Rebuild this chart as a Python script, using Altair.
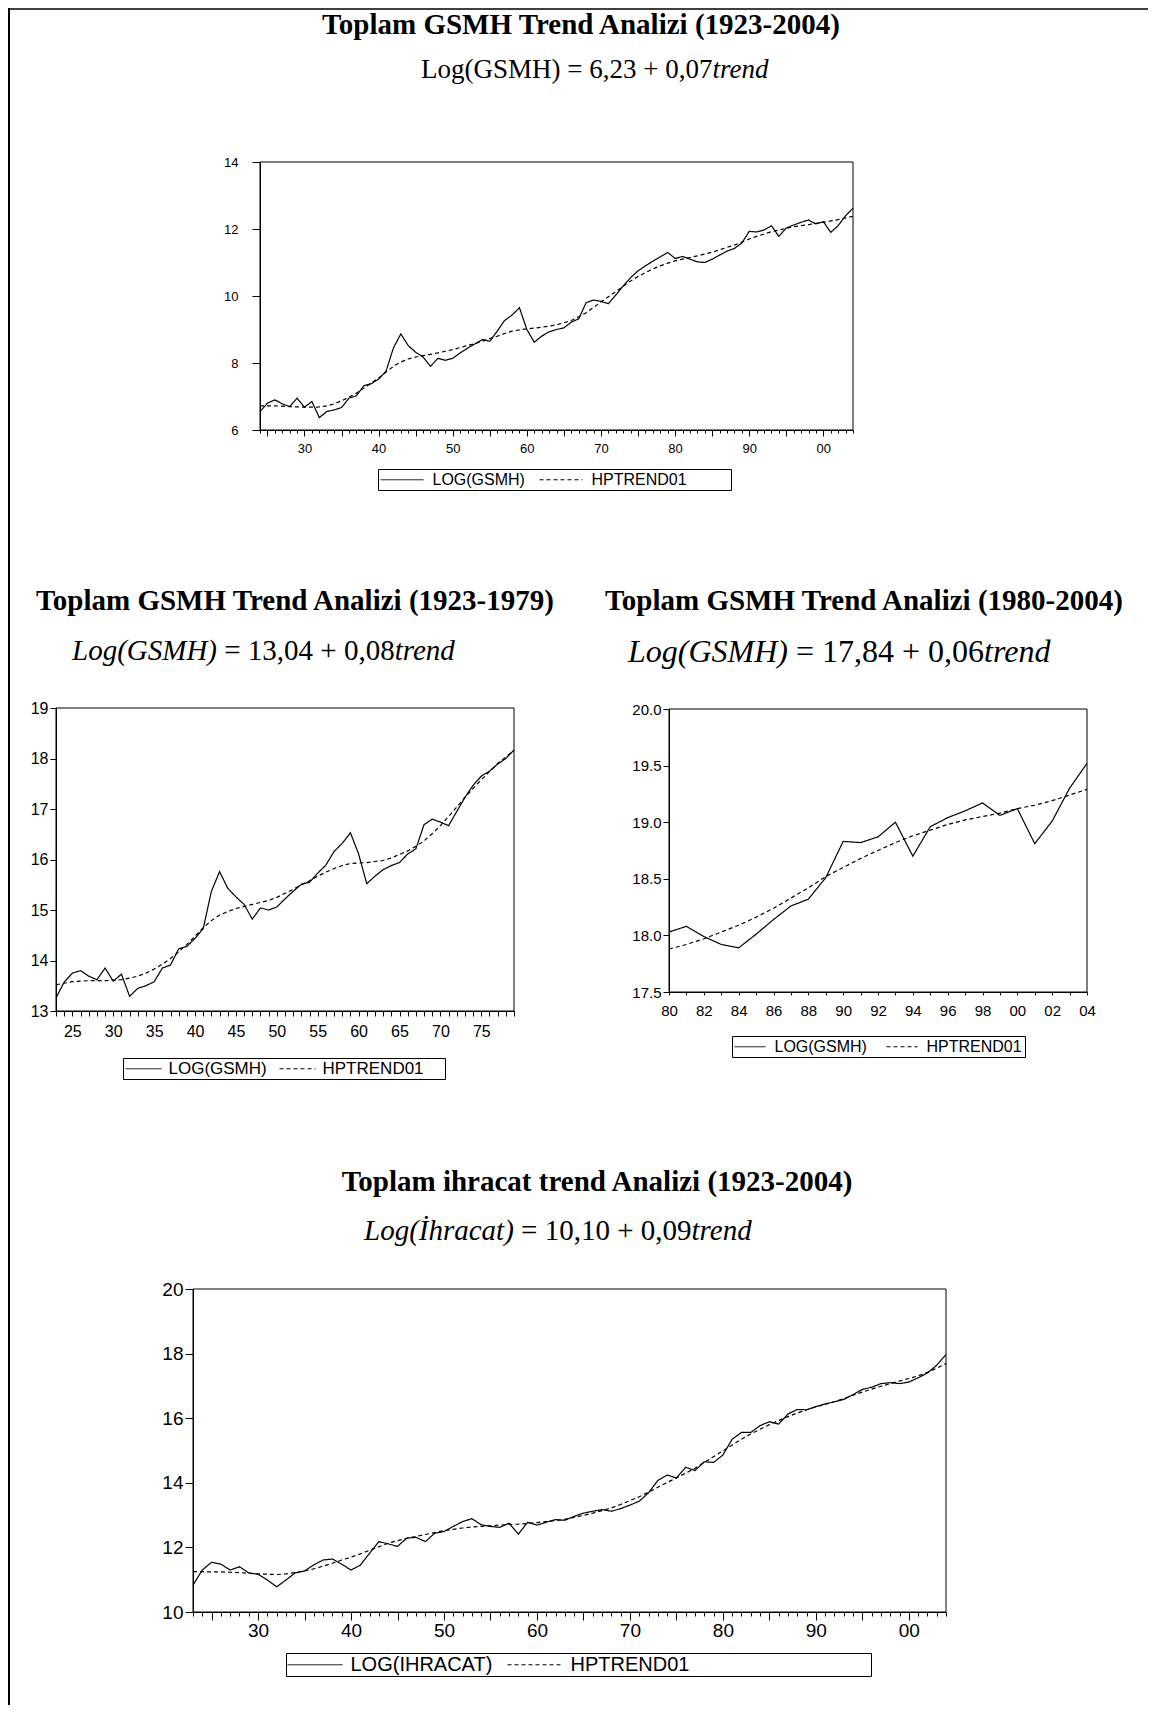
import altair as alt
import pandas as pd

W, H = 1140, 1697
OX, OY = 8, 8

# ---------------- texts ----------------
T1 = "Toplam GSMH Trend Analizi (1923-2004)"
S1_A, S1_B = "Log(GSMH) = 6,23 + 0,07", "trend"
T2 = "Toplam GSMH Trend Analizi (1923-1979)"
S2_A, S2_B, S2_C = "Log(GSMH)", "= 13,04 + 0,08", "trend"
T3 = "Toplam GSMH Trend Analizi (1980-2004)"
S3_A, S3_B, S3_C = "Log(GSMH)", "= 17,84 + 0,06", "trend"
T4 = "Toplam ihracat trend Analizi (1923-2004)"
S4_A, S4_B, S4_C = "Log(İhracat)", "= 10,10 + 0,09", "trend"

# ---------------- panel 1 : 1924-2004 ----------------
P1_YEARS = list(range(1924, 2005))
P1_LOG = [6.55, 6.80, 6.90, 6.78, 6.70, 6.95, 6.68, 6.85, 6.37, 6.55,
          6.60, 6.67, 6.95, 7.02, 7.32, 7.38, 7.52, 7.75, 8.45, 8.87,
          8.52, 8.32, 8.18, 7.90, 8.14, 8.08, 8.14, 8.30, 8.44, 8.57,
          8.70, 8.65, 8.95, 9.27, 9.43, 9.65, 9.00, 8.62, 8.80, 8.93,
          9.00, 9.05, 9.22, 9.32, 9.80, 9.88, 9.84, 9.77, 10.03, 10.30,
          10.55, 10.75, 10.90, 11.04, 11.17, 11.30, 11.12, 11.18, 11.10, 11.02,
          11.00, 11.10, 11.22, 11.34, 11.42, 11.58, 11.93, 11.91, 11.97, 12.10,
          11.78, 12.03, 12.12, 12.20, 12.27, 12.15, 12.22, 11.90, 12.10, 12.40,
          12.62]
P1_TREND = [6.72, 6.72, 6.72, 6.71, 6.70, 6.69, 6.68, 6.68, 6.69, 6.72,
            6.78, 6.87, 6.98, 7.10, 7.25, 7.40, 7.55, 7.73, 7.90, 8.03,
            8.12, 8.18, 8.22, 8.26, 8.30, 8.35, 8.40, 8.46, 8.52, 8.58,
            8.65, 8.73, 8.80, 8.88, 8.95, 8.99, 9.02, 9.04, 9.07, 9.10,
            9.14, 9.20, 9.27, 9.38, 9.50, 9.66, 9.82, 9.98, 10.13, 10.29,
            10.45, 10.58, 10.70, 10.81, 10.90, 10.98, 11.05, 11.10, 11.15, 11.20,
            11.25, 11.31, 11.38, 11.45, 11.52, 11.61, 11.70, 11.78, 11.85, 11.92,
            11.97, 12.02, 12.07, 12.10, 12.13, 12.17, 12.20, 12.24, 12.28, 12.33,
            12.38]
P1_YTICKS = [6, 8, 10, 12, 14]

# ---------------- panel 2 : 1923-1979 ----------------
P2_YEARS = list(range(1923, 1980))
P2_LOG = [13.26, 13.57, 13.75, 13.80, 13.69, 13.62, 13.85, 13.59, 13.73, 13.29,
          13.45, 13.50, 13.58, 13.85, 13.91, 14.23, 14.28, 14.44, 14.63, 15.37,
          15.76, 15.43, 15.26, 15.11, 14.82, 15.04, 15.00, 15.06, 15.22, 15.37,
          15.51, 15.55, 15.73, 15.89, 16.16, 16.32, 16.53, 16.11, 15.52, 15.67,
          15.80, 15.88, 15.94, 16.11, 16.21, 16.69, 16.80, 16.74, 16.67, 16.95,
          17.23, 17.47, 17.65, 17.75, 17.89, 18.00, 18.17]
P2_TREND = [13.52, 13.55, 13.58, 13.59, 13.60, 13.60, 13.60, 13.61, 13.62, 13.65,
            13.69, 13.75, 13.83, 13.93, 14.04, 14.17, 14.32, 14.48, 14.65, 14.79,
            14.90, 14.97, 15.03, 15.07, 15.11, 15.15, 15.19, 15.25, 15.33, 15.41,
            15.50, 15.58, 15.67, 15.75, 15.82, 15.88, 15.92, 15.93, 15.94, 15.96,
            15.98, 16.03, 16.10, 16.17, 16.26, 16.37, 16.51, 16.67, 16.85, 17.04,
            17.23, 17.41, 17.58, 17.74, 17.90, 18.03, 18.16]
P2_YTICKS = [13, 14, 15, 16, 17, 18, 19]

# ---------------- panel 3 : 1980-2004 ----------------
P3_YEARS = list(range(1980, 2005))
P3_LOG = [18.03, 18.08, 17.99, 17.92, 17.89, 18.01, 18.14, 18.26, 18.32, 18.51,
          18.83, 18.82, 18.87, 19.00, 18.70, 18.96, 19.04, 19.10, 19.17, 19.06,
          19.12, 18.81, 19.01, 19.30, 19.52]
P3_TREND = [17.88, 17.92, 17.97, 18.03, 18.09, 18.16, 18.24, 18.33, 18.42, 18.52,
            18.60, 18.68, 18.75, 18.82, 18.88, 18.93, 18.98, 19.02, 19.05, 19.08,
            19.12, 19.15, 19.19, 19.24, 19.29]
P3_YTICKS = [17.5, 18.0, 18.5, 19.0, 19.5, 20.0]

# ---------------- panel 4 : 1923-2004 (ihracat) ----------------
P4_YEARS = list(range(1923, 2005))
P4_LOG = [10.83, 11.30, 11.54, 11.48, 11.30, 11.40, 11.21, 11.17, 10.99, 10.78,
          10.99, 11.21, 11.27, 11.46, 11.61, 11.64, 11.48, 11.30, 11.45, 11.82,
          12.18, 12.11, 12.03, 12.29, 12.31, 12.18, 12.44, 12.49, 12.65, 12.80,
          12.89, 12.70, 12.65, 12.62, 12.75, 12.41, 12.78, 12.69, 12.78, 12.86,
          12.84, 12.96, 13.06, 13.12, 13.17, 13.12, 13.20, 13.31, 13.43, 13.69,
          14.07, 14.24, 14.15, 14.48, 14.38, 14.65, 14.63, 14.86, 15.35, 15.56,
          15.56, 15.77, 15.89, 15.82, 16.13, 16.27, 16.26, 16.36, 16.44, 16.51,
          16.58, 16.73, 16.89, 16.96, 17.07, 17.10, 17.07, 17.12, 17.25, 17.40,
          17.64, 17.97]
P4_TREND = [11.25, 11.25, 11.24, 11.24, 11.23, 11.22, 11.20, 11.18, 11.17, 11.16,
            11.18, 11.22, 11.27, 11.34, 11.42, 11.51, 11.61, 11.70, 11.80, 11.91,
            12.02, 12.13, 12.21, 12.28, 12.34, 12.40, 12.46, 12.52, 12.56, 12.60,
            12.63, 12.65, 12.67, 12.69, 12.71, 12.72, 12.74, 12.77, 12.80, 12.83,
            12.87, 12.93, 12.99, 13.06, 13.14, 13.22, 13.33, 13.45, 13.57, 13.71,
            13.86, 14.01, 14.15, 14.30, 14.45, 14.63, 14.81, 14.99, 15.17, 15.35,
            15.51, 15.66, 15.80, 15.93, 16.05, 16.16, 16.26, 16.35, 16.43, 16.51,
            16.61, 16.71, 16.81, 16.90, 16.99, 17.07, 17.15, 17.23, 17.31, 17.42,
            17.55, 17.69]
P4_YTICKS = [10, 12, 14, 16, 18, 20]

TREND_NAME = "HPTREND01"
SANS = "Liberation Sans"
SERIF = "Liberation Serif"


def make_legend(box_x, box_y, font, s, pad, L, gap, colpad, trail):
    # long horizontal stroke as a custom symbol path inside an s x s symbol cell
    c = (int(s + 1 + 0.999)) / 2.0
    r = s / 2.0
    k = (L + 0.5 - c) / r
    return alt.Legend(
        orient="none", legendX=box_x - OX, legendY=box_y - OY,
        direction="horizontal", columns=2,
        title=" ", titleOrient="right", titlePadding=trail, titleFontSize=font,
        strokeColor="black", fillColor="white", padding=pad,
        labelFont=SANS, labelFontSize=font, labelColor="black",
        labelOffset=L + 0.5 + gap - (s + 1),
        symbolType=f"M-1,0H{k:.3f}", symbolSize=s * s, symbolStrokeColor="black",
        symbolFillColor="transparent", symbolStrokeWidth=1, columnPadding=colpad,
    )


def panel(years, log_vals, trend_vals, log_name, ydom, yticks, yfmt,
          box, label_every, major_every, tick_minor, tick_major, xpad, xfont,
          ytick, ypad, yfont, legend):
    x0, y0, x1, y1 = box  # page pixels of the plot frame
    df = pd.DataFrame({
        "year": years + years,
        "value": log_vals + trend_vals,
        "series": [log_name] * len(years) + [TREND_NAME] * len(years),
    })
    xdom = [years[0], years[-1]]
    xs = alt.Scale(domain=xdom, range=[x0 - OX, x1 - OX], nice=False, zero=False)
    ys = alt.Scale(domain=ydom, range=[y1 - OY, y0 - OY], nice=False, zero=False)

    xaxis = alt.Axis(
        orient="bottom", offset=(y1 - OY) - H, values=years, title=None, grid=False,
        labelExpr=f"datum.value % {label_every} === 0 ? slice(toString(datum.value), 2) : ''",
        labelOverlap=False, labelFlush=False, labelFont=SANS, labelFontSize=xfont,
        labelColor="black", labelPadding=xpad,
        tickSize={"condition": {"test": f"datum.value % {major_every} === 0", "value": tick_major},
                  "value": tick_minor},
        tickColor="black", tickWidth=1, domainColor="black", domainWidth=1,
    )
    yaxis = alt.Axis(
        orient="left", offset=-(x0 - OX), values=yticks, format=yfmt, title=None, grid=False,
        labelOverlap=False, labelFlush=False, labelFont=SANS, labelFontSize=yfont,
        labelColor="black", labelPadding=ypad, tickSize=ytick,
        tickColor="black", tickWidth=1, domainColor="black", domainWidth=1,
    )
    lines = alt.Chart(df).mark_line(color="black", strokeWidth=1.2).encode(
        x=alt.X("year:Q", scale=xs, axis=xaxis),
        y=alt.Y("value:Q", scale=ys, axis=yaxis),
        strokeDash=alt.StrokeDash(
            "series:N",
            scale=alt.Scale(domain=[log_name, TREND_NAME], range=[[1, 0], [4, 3]]),
            legend=legend,
        ),
    )
    frame_df = pd.DataFrame({"year": [xdom[0]], "year_end": [xdom[1]],
                             "value": [ydom[0]], "value_end": [ydom[1]]})
    frame = alt.Chart(frame_df).mark_rect(fillOpacity=0, stroke="black", strokeWidth=1).encode(
        x=alt.X("year:Q", scale=xs, axis=xaxis), x2="year_end:Q",
        y=alt.Y("value:Q", scale=ys, axis=yaxis), y2="value_end:Q",
    )
    return alt.layer(frame, lines)


def txt(s, x, y, size, weight="normal", style="normal", align="center"):
    return alt.Chart(alt.Data(values=[{}])).mark_text(
        text=s, font=SERIF, fontSize=size, fontWeight=weight, fontStyle=style,
        align=align, baseline="middle", color="black",
    ).encode(x=alt.value(x - OX), y=alt.value(y - OY))


p1 = panel(P1_YEARS, P1_LOG, P1_TREND, "LOG(GSMH)", [6, 14], P1_YTICKS, "d",
           (260, 162, 853, 430), 10, 5, 3, 6, 6, 13, 8, 14, 13,
           make_legend(378, 469, 16, 16, 2, 43, 9, 12, 42))
p2 = panel(P2_YEARS, P2_LOG, P2_TREND, "LOG(GSMH)", [13, 19], P2_YTICKS, "d",
           (56, 708, 514, 1011), 5, 5, 5, 5, 7, 16, 6, 2, 16,
           make_legend(123, 1058, 17, 16, 2, 36, 7, 10, 19))
p3 = panel(P3_YEARS, P3_LOG, P3_TREND, "LOG(GSMH)", [17.5, 20], P3_YTICKS, ".1f",
           (669, 709, 1087, 992), 2, 2, 3, 3, 8, 15, 6, 2, 15,
           make_legend(732, 1036, 16, 16, 2, 31, 9, 17, 1))
p4 = panel(P4_YEARS, P4_LOG, P4_TREND, "LOG(IHRACAT)", [10, 20], P4_YTICKS, "d",
           (193, 1289, 946, 1612), 10, 5, 4, 8, 1, 19, 8, 2, 19,
           make_legend(286, 1653, 20, 20, 1, 55, 8, 12, 181))

texts = [
    txt(T1, 581, 25, 29, weight="bold"),
    txt(S1_A, 421, 70, 27, align="left"),
    txt(S1_B, 421 + 10.794 * 27, 70, 27, style="italic", align="left"),
    txt(T2, 295, 601, 29, weight="bold"),
    txt(S2_A, 72, 651, 29, style="italic", align="left"),
    txt(S2_B, 72 + 5.249 * 29, 651, 29, align="left"),
    txt(S2_C, 72 + (5.249 + 5.878) * 29, 651, 29, style="italic", align="left"),
    txt(T3, 864, 601, 29, weight="bold"),
    txt(S3_A, 628, 652, 32, style="italic", align="left"),
    txt(S3_B, 628 + 5.249 * 32, 652, 32, align="left"),
    txt(S3_C, 628 + (5.249 + 5.878) * 32, 652, 32, style="italic", align="left"),
    txt(T4, 597, 1182, 29, weight="bold"),
    txt(S4_A, 364, 1231, 29, style="italic", align="left"),
    txt(S4_B, 364 + 5.416 * 29, 1231, 29, align="left"),
    txt(S4_C, 364 + (5.416 + 5.878) * 29, 1231, 29, style="italic", align="left"),
]

border_left = alt.Chart(alt.Data(values=[{}])).mark_rule(color="black", strokeWidth=2).encode(
    x=alt.value(1), y=alt.value(0), y2=alt.value(H))
border_top = alt.Chart(alt.Data(values=[{}])).mark_rule(color="black", strokeWidth=1.5).encode(
    x=alt.value(0), x2=alt.value(W), y=alt.value(1))

chart = alt.layer(p1, p2, p3, p4, *texts, border_left, border_top).resolve_scale(
    x="independent", y="independent", strokeDash="independent"
).resolve_axis(
    x="independent", y="independent"
).resolve_legend(
    strokeDash="independent"
).properties(
    width=W, height=H, padding=0, autosize=alt.AutoSizeParams(type="none"),
    background="white",
).configure_view(strokeWidth=0)

chart.save("out.html", embed_options={"renderer": "svg", "actions": False})
